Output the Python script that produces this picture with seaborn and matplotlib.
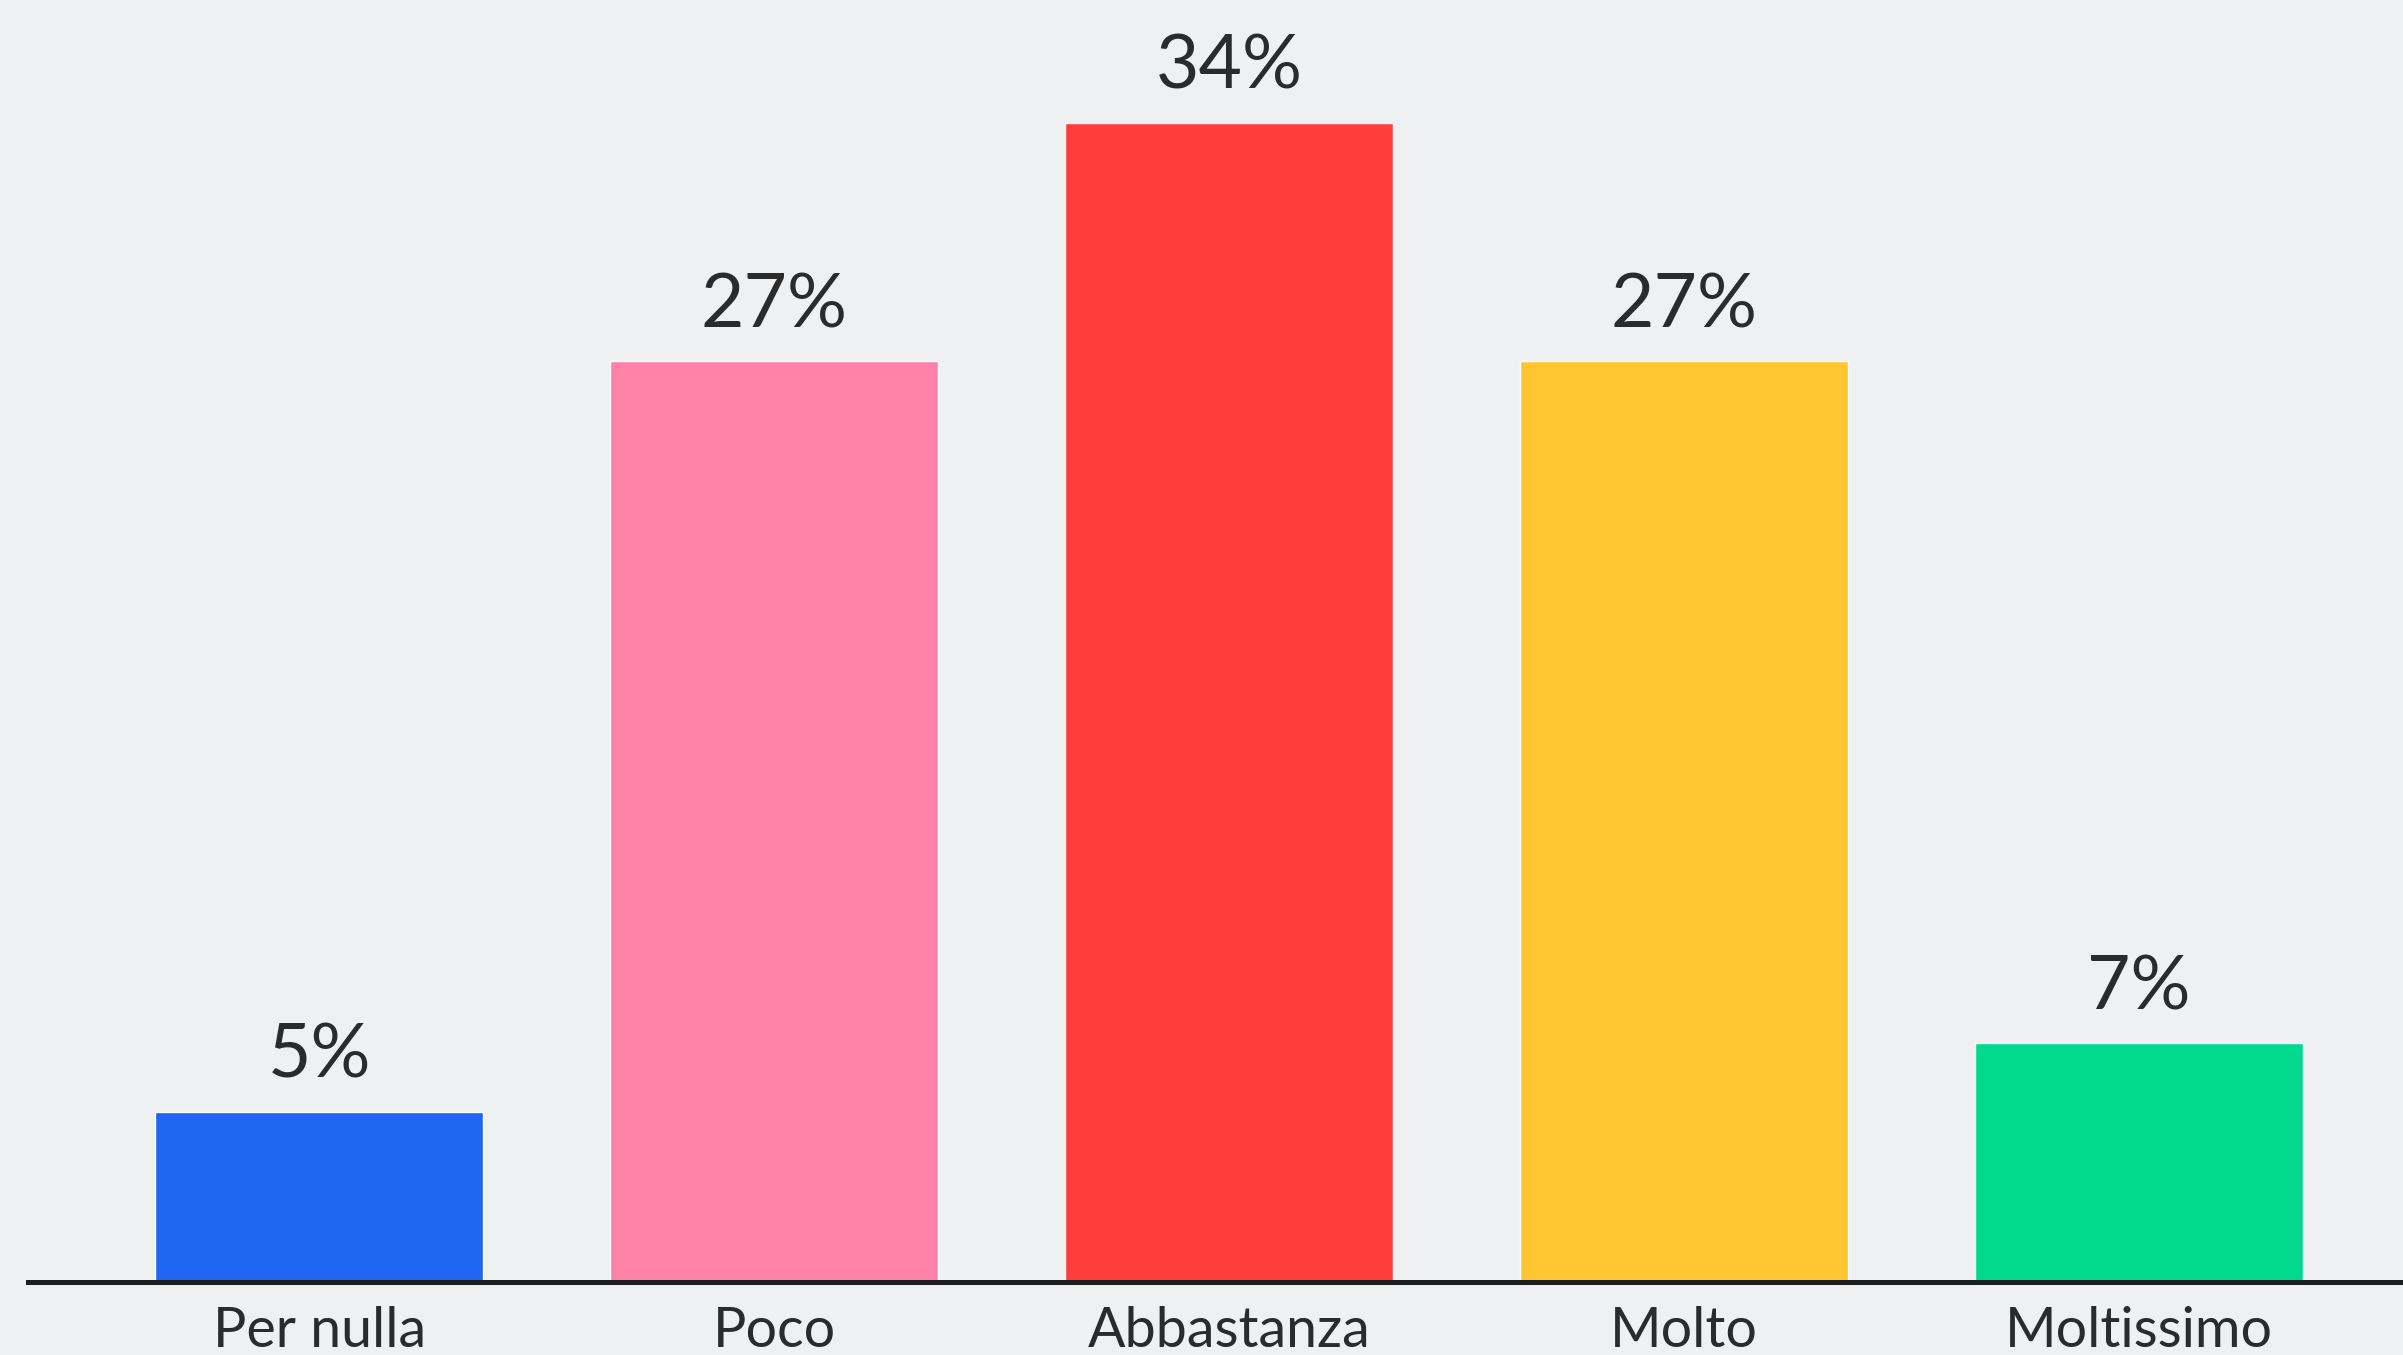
import pandas as pd
import seaborn as sns
import matplotlib.pyplot as plt

categorie = ["Per nulla", "Poco", "Abbastanza", "Molto", "Moltissimo"]
percentuali = [5, 27, 34, 27, 7]
colori = ["#1F66F2", "#FF80A9", "#FF3D3A", "#FFC632", "#00D98E"]

df = pd.DataFrame({"categoria": categorie, "valore": percentuali})

sns.set_style("white")
plt.rcParams['font.family'] = ['Lato', 'DejaVu Sans']

fig = plt.figure(figsize=(24.03, 13.55), dpi=100, facecolor="#EFF0F2")
ax = fig.add_axes([28 / 2403, 73 / 1355, 1 - 28 / 2403, 1282 / 1355])
ax.set_facecolor("#EFF0F2")

sns.barplot(data=df, x="categoria", y="valore", hue="categoria",
            palette=colori, legend=False, width=0.72, saturation=1, ax=ax)

for cont in ax.containers:
    ax.bar_label(cont, labels=[f"{v:.0f}%" for v in cont.datavalues],
                 padding=15, fontsize=54, color="#2B2B2B")

ax.set_xlim(-0.64, 4.58)
ax.set_ylim(0, 37.6)
ax.set_xlabel("")
ax.set_ylabel("")
ax.set_yticks([])
ax.tick_params(axis="x", length=0, pad=17, labelsize=40, labelcolor="#2B2B2B")
for s in ["top", "left", "right"]:
    ax.spines[s].set_visible(False)
ax.spines["bottom"].set_linewidth(3.6)
ax.spines["bottom"].set_color("#1E1E1E")

fig.savefig("out.png", dpi=100, facecolor=fig.get_facecolor())
